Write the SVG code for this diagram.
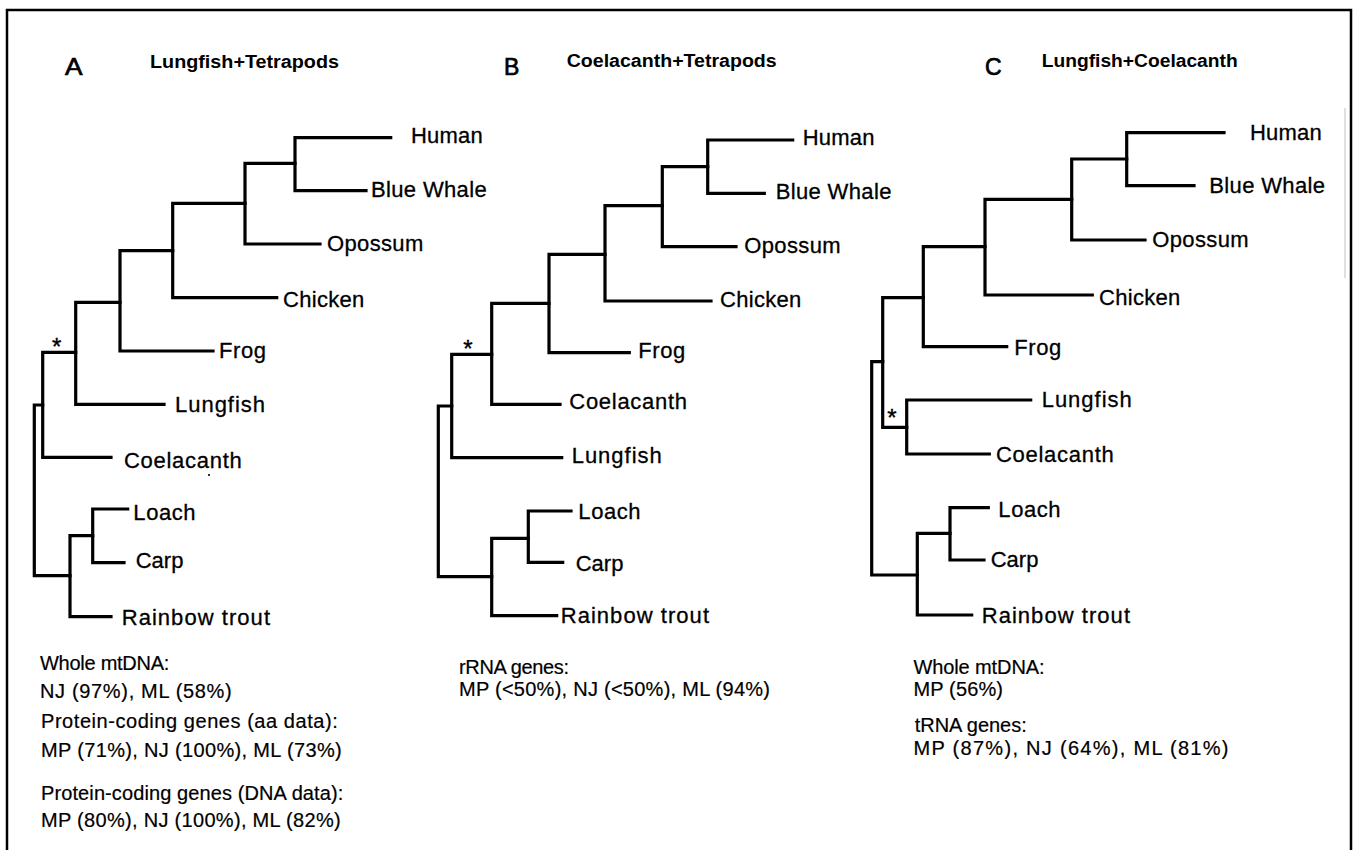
<svg xmlns="http://www.w3.org/2000/svg" width="1356" height="850" viewBox="0 0 1356 850">
<style>
.br{fill:none;stroke:#000;stroke-width:3.2;stroke-linecap:square;stroke-linejoin:miter}
.lab{font-family:"Liberation Sans",Arial,sans-serif;font-size:22px;fill:#000;stroke:#000;stroke-width:0.3}
.ttl{font-family:"Liberation Sans",Arial,sans-serif;font-size:18px;font-weight:bold;fill:#000}
.let{font-family:"Liberation Sans",Arial,sans-serif;font-size:23px;fill:#000;stroke:#000;stroke-width:0.7}
.sup{font-family:"Liberation Sans",Arial,sans-serif;font-size:20px;fill:#000;stroke:#000;stroke-width:0.2}
.ast{font-family:"Liberation Sans",Arial,sans-serif;font-size:24px;fill:#000;stroke:#000;stroke-width:0.4;text-anchor:middle}
</style>
<rect x="0" y="0" width="1356" height="850" fill="#fff"/>
<path d="M7,850 V10 H1351 V850" fill="none" stroke="#000" stroke-width="2.5"/>
<line x1="1345" y1="108" x2="1345" y2="278" stroke="#999" stroke-width="1" opacity="0.6"/>
<rect x="208" y="474" width="2" height="2" fill="#333"/>

<!-- Tree A -->
<g id="treeA">
<text class="let" x="65" y="74.5" textLength="17.5" lengthAdjust="spacingAndGlyphs">A</text>
<text class="ttl" x="150" y="68" textLength="189" lengthAdjust="spacingAndGlyphs">Lungfish+Tetrapods</text>
<g id="connA">
<path class="br" d="M390.7,137.7 H295 V190.7 H366"/>
<path class="br" d="M295,163.3 H245 V244 H320"/>
<path class="br" d="M245,203.3 H172.7 V297.7 H276.7"/>
<path class="br" d="M172.7,250.7 H120 V351 H213"/>
<path class="br" d="M120,302.3 H75.7 V404.3 H164"/>
<path class="br" d="M75.7,352.3 H42.7 V457.3 H111"/>
<path class="br" d="M42.7,405 H34.3 V575.7 H70"/>
<path class="br" d="M92.7,535.7 H70 V616.7 H111"/>
<path class="br" d="M127.7,509 H92.7 V562.7 H124"/>
</g>
<text class="ast" x="56.7" y="355">*</text>
<g id="A-human"><text class="lab" x="411" y="143.3" textLength="71.7">Human</text></g>
<g id="A-whale"><text class="lab" x="371" y="196.7" textLength="115.7">Blue Whale</text></g>
<g id="A-opossum"><text class="lab" x="327" y="251" textLength="96.3">Opossum</text></g>
<g id="A-chicken"><text class="lab" x="283" y="306.7" textLength="81.3">Chicken</text></g>
<g id="A-frog"><text class="lab" x="219" y="358.3" textLength="47">Frog</text></g>
<g id="A-lungfish"><text class="lab" x="175" y="411.7" textLength="90">Lungfish</text></g>
<g id="A-coelacanth"><text class="lab" x="124" y="468.3" textLength="117.7">Coelacanth</text></g>
<g id="A-loach"><text class="lab" x="133.3" y="520" textLength="62.3">Loach</text></g>
<g id="A-carp"><text class="lab" x="135.7" y="568.3" textLength="47.7">Carp</text></g>
<g id="A-trout"><text class="lab" x="121.7" y="625" textLength="148.3">Rainbow trout</text></g>
<g id="A-support">
<text class="sup" x="40" y="669.5" textLength="129.3">Whole mtDNA:</text>
<text class="sup" x="40" y="697.5" textLength="191.7">NJ (97%), ML (58%)</text>
<text class="sup" x="41" y="727.5" textLength="296.7">Protein-coding genes (aa data):</text>
<text class="sup" x="41" y="756.7" textLength="300.7">MP (71%), NJ (100%), ML (73%)</text>
<text class="sup" x="41" y="800" textLength="302.3">Protein-coding genes (DNA data):</text>
<text class="sup" x="41" y="827.3" textLength="299.7">MP (80%), NJ (100%), ML (82%)</text>
</g>
</g>

<!-- Tree B -->
<g id="treeB">
<text class="let" x="504" y="74.5">B</text>
<text class="ttl" x="566.7" y="67.3" textLength="210" lengthAdjust="spacingAndGlyphs">Coelacanth+Tetrapods</text>
<g id="connB">
<path class="br" d="M792.7,140 H707.7 V193.3 H764.3"/>
<path class="br" d="M707.7,166.7 H662.3 V246.7 H736"/>
<path class="br" d="M662.3,205.7 H605 V301 H711"/>
<path class="br" d="M605,254.3 H549 V352.7 H629.3"/>
<path class="br" d="M549,303.3 H491.7 V404.3 H560"/>
<path class="br" d="M491.7,354.3 H451.7 V457.7 H561.7"/>
<path class="br" d="M451.7,406 H438.3 V576.7 H491.7"/>
<path class="br" d="M528.3,538.3 H491.7 V615.7 H556.7"/>
<path class="br" d="M571,511 H528.3 V562.3 H562.7"/>
</g>
<text class="ast" x="468" y="357">*</text>
<g id="B-human"><text class="lab" x="802.7" y="145" textLength="71.7">Human</text></g>
<g id="B-whale"><text class="lab" x="775.7" y="199.3" textLength="115.7">Blue Whale</text></g>
<g id="B-opossum"><text class="lab" x="744.3" y="253.3" textLength="96.3">Opossum</text></g>
<g id="B-chicken"><text class="lab" x="720" y="306.7" textLength="81.3">Chicken</text></g>
<g id="B-frog"><text class="lab" x="638.3" y="358.3" textLength="47">Frog</text></g>
<g id="B-coelacanth"><text class="lab" x="569.3" y="408.7" textLength="117.7">Coelacanth</text></g>
<g id="B-lungfish"><text class="lab" x="571.7" y="463.3" textLength="90">Lungfish</text></g>
<g id="B-loach"><text class="lab" x="578.3" y="519.3" textLength="62.3">Loach</text></g>
<g id="B-carp"><text class="lab" x="575.7" y="571" textLength="47.7">Carp</text></g>
<g id="B-trout"><text class="lab" x="560.7" y="623.3" textLength="148.3">Rainbow trout</text></g>
<g id="B-support">
<text class="sup" x="459" y="674" textLength="110">rRNA genes:</text>
<text class="sup" x="459" y="696" textLength="311">MP (&lt;50%), NJ (&lt;50%), ML (94%)</text>
</g>
</g>

<!-- Tree C -->
<g id="treeC">
<text class="let" x="985" y="74.5">C</text>
<text class="ttl" x="1041.7" y="66.7" textLength="196" lengthAdjust="spacingAndGlyphs">Lungfish+Coelacanth</text>
<g id="connC">
<path class="br" d="M1224,132.7 H1126.7 V185.7 H1194"/>
<path class="br" d="M1126.7,159 H1071.7 V240 H1145"/>
<path class="br" d="M1071.7,199.3 H985 V295 H1092.3"/>
<path class="br" d="M985,246.7 H923.3 V346.7 H1006.7"/>
<path class="br" d="M923.3,297.7 H882.7 V427.3 H906.7"/>
<path class="br" d="M1030.7,400 H906.7 V454 H989.3"/>
<path class="br" d="M882.7,361.7 H871.7 V575 H917.3"/>
<path class="br" d="M950,533.3 H917.3 V615 H971.7"/>
<path class="br" d="M988.3,507.7 H950 V560 H984"/>
</g>
<text class="ast" x="892" y="426">*</text>
<g id="C-human"><text class="lab" x="1250" y="140" textLength="71.7">Human</text></g>
<g id="C-whale"><text class="lab" x="1209.3" y="193.3" textLength="115.7">Blue Whale</text></g>
<g id="C-opossum"><text class="lab" x="1152.3" y="246.7" textLength="96.3">Opossum</text></g>
<g id="C-chicken"><text class="lab" x="1099" y="305" textLength="81.3">Chicken</text></g>
<g id="C-frog"><text class="lab" x="1014.3" y="355" textLength="47">Frog</text></g>
<g id="C-lungfish"><text class="lab" x="1041.7" y="406.7" textLength="90">Lungfish</text></g>
<g id="C-coelacanth"><text class="lab" x="996" y="461.7" textLength="117.7">Coelacanth</text></g>
<g id="C-loach"><text class="lab" x="998.3" y="516.7" textLength="62.3">Loach</text></g>
<g id="C-carp"><text class="lab" x="990.7" y="566.7" textLength="47.7">Carp</text></g>
<g id="C-trout"><text class="lab" x="981.7" y="623.3" textLength="148.3">Rainbow trout</text></g>
<g id="C-support">
<text class="sup" x="913.5" y="674" textLength="131">Whole mtDNA:</text>
<text class="sup" x="913.5" y="696" textLength="89.5">MP (56%)</text>
<text class="sup" x="914.7" y="732" textLength="112">tRNA genes:</text>
<text class="sup" x="913.5" y="755" textLength="315">MP (87%), NJ (64%), ML (81%)</text>
</g>
</g>
</svg>
